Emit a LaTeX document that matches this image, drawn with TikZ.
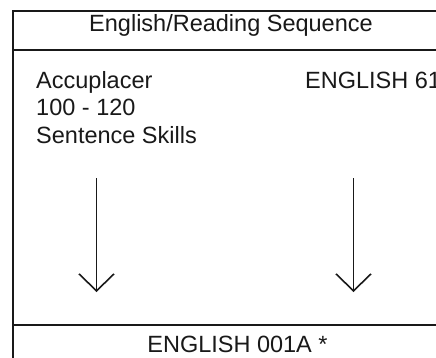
\documentclass[tikz,border=0pt]{standalone}
\usepackage{fontspec}
\setmainfont{Liberation Sans}
\usetikzlibrary{arrows.meta}

\tikzset{
    label/.style={inner sep=0pt, font=\fontsize{23.5}{27.5}\selectfont, text=black!90},
    rule/.style={line width=2pt, draw=black!90},
    down/.style={line width=1.6pt, draw=black!90, -{Straight Barb[length=17pt,width=35pt,line width=1.6pt]}}
}

\begin{document}
\begin{tikzpicture}[x=1pt,y=-1pt]
    \useasboundingbox (0,0) rectangle (436,357);

    \coordinate (corner) at (13,11);
    \coordinate (topend) at (450,11);
    \coordinate (foot) at (13,370);
    \coordinate (midl) at (13,50);
    \coordinate (midr) at (450,50);
    \coordinate (lowl) at (13,325);
    \coordinate (lowr) at (450,325);

    % frame
    \draw[rule] (topend) -- (corner) -- (foot);
    \draw[rule] (midl) -- (midr);
    \draw[rule] (lowl) -- (lowr);

    \node[label, anchor=base] (title) at (231,31) {English/Reading Sequence};
    \node[label, anchor=base west, align=left] (acc) at (36,143) {Accuplacer\\100 - 120\\Sentence Skills};
    \node[label, anchor=base west] (eng) at (305,88) {ENGLISH 61};
    \node[label, anchor=base] (target) at (237.5,352) {ENGLISH 001A *};

    \coordinate (acctop) at (96.5,178);
    \coordinate (accend) at (96.5,292);
    \coordinate (engtop) at (353.5,178);
    \coordinate (engend) at (353.5,292);

    \draw[down] (acctop) -- (accend);
    \draw[down] (engtop) -- (engend);
\end{tikzpicture}
\end{document}
